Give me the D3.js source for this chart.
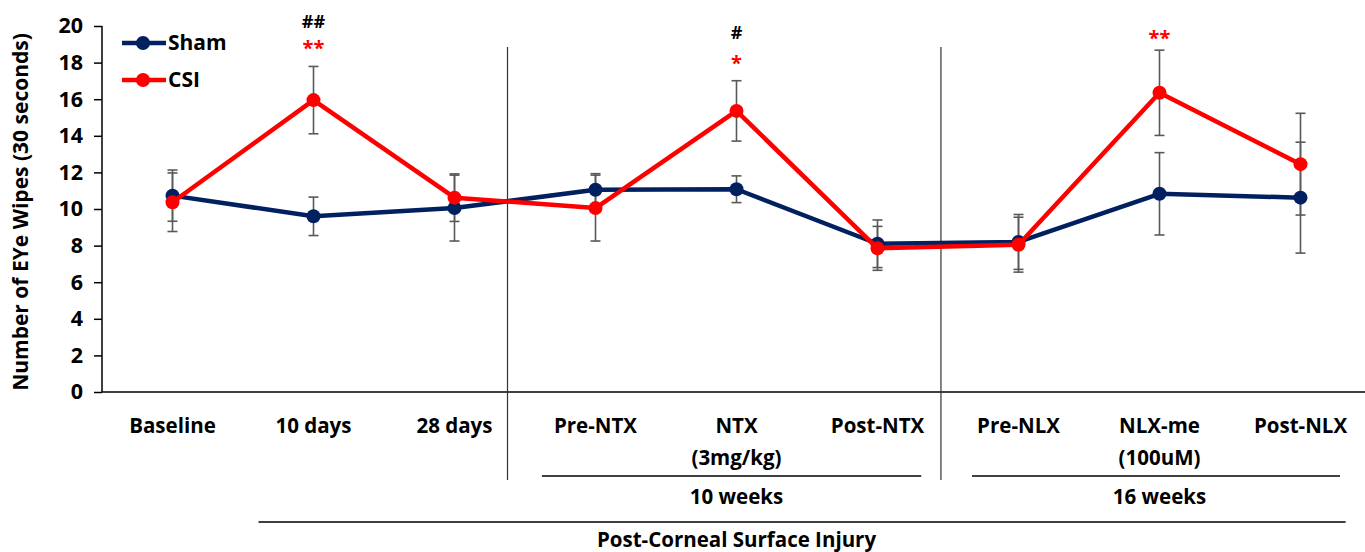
<!DOCTYPE html>
<html>
<head>
<meta charset="utf-8">
<script src="https://cdn.jsdelivr.net/npm/d3@7"></script>
<style>
  body { margin:0; background:#fff; }
  svg text { font-family: "Open Sans", Lato, sans-serif; font-weight:bold; }
</style>
</head>
<body>
<div id="plot"></div>
<script>
// data
var categories = ['Baseline','10 days','28 days','Pre-NTX','NTX','Post-NTX','Pre-NLX','NLX-me','Post-NLX'];
var catLine2   = ['','','','','(3mg/kg)','','','(100uM)',''];
var shamMean = [10.73, 9.6, 10.05, 11.05, 11.08, 8.1, 8.2, 10.83, 10.62];
var shamErr  = [1.4, 1.05, 1.8, 0.88, 0.73, 1.3, 1.5, 2.25, 3.03];
var csiMean  = [10.37, 15.95, 10.62, 10.05, 15.36, 7.85, 8.05, 16.35, 12.45];
var csiErr   = [1.6, 1.84, 1.3, 1.8, 1.65, 1.2, 1.5, 2.33, 2.78];
var yTicks = [0,2,4,6,8,10,12,14,16,18,20];
// significance marks: category index, text, colour, row (0 = upper)
var marks = [
  {i:1, t:'##', c:'#000', row:0},
  {i:1, t:'**', c:'#ff0000', row:1.25},
  {i:4, t:'#', c:'#000', row:0.5},
  {i:4, t:'*', c:'#ff0000', row:1.95},
  {i:7, t:'**', c:'#ff0000', row:0.8}
];
// group brackets below the axis (in category units)
var groups = [
  {from:2.62, to:5.31, label:'10 weeks', at:4, level:0},
  {from:5.67, to:8.28, label:'16 weeks', at:7, level:0},
  {from:0.61, to:8.32, label:'Post-Corneal Surface Injury', at:4, level:1}
];
var dividers = [2.376, 5.45];

var W = 1365, H = 552;
var svg = d3.select('#plot').append('svg').attr('width',W).attr('height',H);

var x = d3.scaleLinear().domain([-0.5, 8.5]).range([102, 1371]);
var y = d3.scaleLinear().domain([0, 20]).range([392, 26]);

var navy = '#002060', red = '#ff0000', grey = '#595959';
var fs = 20.5;

// y axis
var yAxis = d3.axisLeft(y).tickValues(yTicks).tickSize(8).tickPadding(11);
var gy = svg.append('g').attr('transform','translate(102,0)').call(yAxis);
gy.selectAll('path, line').attr('stroke','#000').attr('stroke-width',1.5);
gy.selectAll('text').attr('font-size',21.5).attr('fill','#000');
gy.select('.domain').attr('d','M0,26V392');

// x axis line
svg.append('line').attr('x1',102).attr('x2',W).attr('y1',392).attr('y2',392)
  .attr('stroke','#000').attr('stroke-width',1.5);

svg.append('text')
  .attr('transform','translate(22,212) rotate(-90)')
  .attr('text-anchor','middle').attr('dominant-baseline','middle')
  .attr('font-size',21).text('Number of EYe Wipes (30 seconds)');

// dividers
dividers.forEach(function(d){
  svg.append('line').attr('x1',x(d)).attr('x2',x(d)).attr('y1',47).attr('y2',480)
    .attr('stroke','#333').attr('stroke-width',1.2);
});

// category labels
categories.forEach(function(c,i){
  svg.append('text').attr('x',x(i)).attr('y',433).attr('text-anchor','middle')
    .attr('font-size',fs).attr('fill','#000').text(c);
  if (catLine2[i]) {
    svg.append('text').attr('x',x(i)).attr('y',465).attr('text-anchor','middle')
      .attr('font-size',fs).attr('fill','#000').text(catLine2[i]);
  }
});

groups.forEach(function(g){
  var ly = g.level == 0 ? 476 : 522;
  svg.append('line').attr('x1',x(g.from)).attr('x2',x(g.to)).attr('y1',ly).attr('y2',ly)
    .attr('stroke','#000').attr('stroke-width',1.5);
  svg.append('text').attr('x',x(g.at)).attr('y',ly + (g.level == 0 ? 28 : 25)).attr('text-anchor','middle')
    .attr('font-size',fs).text(g.label);
});

// error bars
function errBars(mean, err){
  mean.forEach(function(m,i){
    var g = svg.append('g').attr('stroke',grey).attr('stroke-width',1.6);
    g.append('line').attr('x1',x(i)).attr('x2',x(i)).attr('y1',y(m+err[i])).attr('y2',y(m-err[i]));
    g.append('line').attr('x1',x(i)-5).attr('x2',x(i)+5).attr('y1',y(m+err[i])).attr('y2',y(m+err[i]));
    g.append('line').attr('x1',x(i)-5).attr('x2',x(i)+5).attr('y1',y(m-err[i])).attr('y2',y(m-err[i]));
  });
}
errBars(shamMean, shamErr);
errBars(csiMean, csiErr);

var line = d3.line().x(function(d,i){return x(i);}).y(function(d){return y(d);});
function series(mean, col){
  svg.append('path').datum(mean).attr('d',line).attr('fill','none')
    .attr('stroke',col).attr('stroke-width',4.5).attr('stroke-linejoin','round');
  svg.selectAll(null).data(mean).enter().append('circle')
    .attr('cx',function(d,i){return x(i);}).attr('cy',function(d){return y(d);})
    .attr('r',7).attr('fill',col);
}
series(shamMean, navy);
series(csiMean, red);

// significance marks
marks.forEach(function(m){
  svg.append('text').attr('x',x(m.i)).attr('y',28 + m.row*21.5).attr('text-anchor','middle')
    .attr('font-size',m.c=='#000'?18:20).attr('fill',m.c).text(m.t);
});

// legend
var leg = [{n:'Sham', c:navy, y:43},{n:'CSI', c:red, y:80}];
leg.forEach(function(l){
  svg.append('line').attr('x1',122).attr('x2',166).attr('y1',l.y).attr('y2',l.y)
    .attr('stroke',l.c).attr('stroke-width',4.5);
  svg.append('circle').attr('cx',143).attr('cy',l.y).attr('r',7).attr('fill',l.c);
  svg.append('text').attr('x',168).attr('y',l.y+1).attr('dominant-baseline','middle')
    .attr('font-size',21).text(l.n);
});
</script>
</body>
</html>
